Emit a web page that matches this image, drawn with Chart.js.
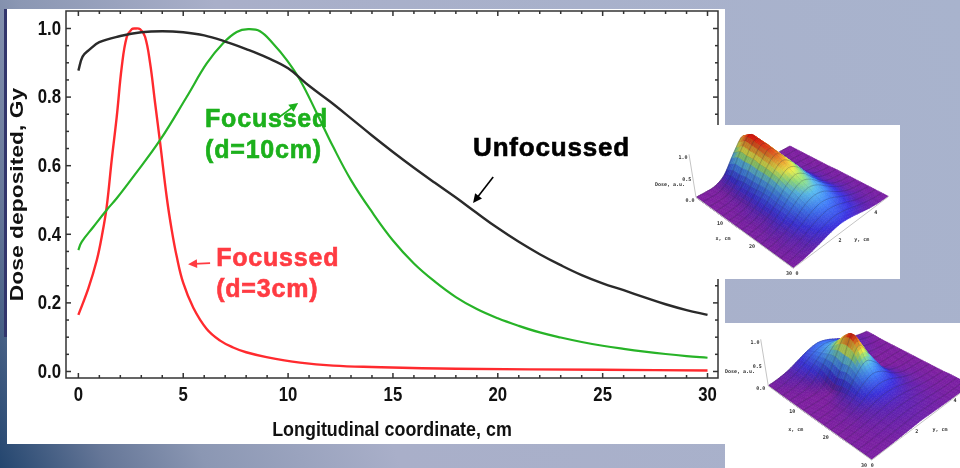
<!DOCTYPE html>
<html>
<head>
<meta charset="utf-8">
<script src="https://cdn.jsdelivr.net/npm/chart.js@4"></script>
<style>
  html, body { margin: 0; padding: 0; }
  body {
    position: relative; width: 960px; height: 468px; overflow: hidden;
    background: linear-gradient(68deg, #24466f 0%, #667798 9.4%, #8b97b3 18%, #a9afc9 35%, #a8b3cd 100%);
  }
  .panel { position: absolute; background: #fff; }
  .panel canvas { display: block; }
  #strip { position: absolute; left: 4px; top: 9px; width: 3px; height: 328px; background: #33366c; }
  #mainPanel { left: 7px; top: 9px; width: 718px; height: 435px; }
  #insetA { left: 640px; top: 125px; width: 260px; height: 154px; }
  #insetB { left: 725px; top: 323px; width: 235px; height: 145px; }
</style>
</head>
<body>
<div id="strip"></div>
<div class="panel" id="mainPanel"><canvas id="doseChart" width="718" height="435"></canvas></div>
<div class="panel" id="insetA"><canvas id="surfaceA" width="260" height="154"></canvas></div>
<div class="panel" id="insetB"><canvas id="surfaceB" width="235" height="145"></canvas></div>
<script>
// Longitudinal dose curves
const unfocussedX = [0, 0.2, 0.5, 1, 2, 3, 4, 5, 6, 7, 8, 9, 10, 11, 12, 13, 14, 15, 16, 17, 18, 19, 20, 21, 22, 23, 24, 25, 26, 27, 28, 29, 30];
const unfocussedDose = [0.877, 0.918, 0.937, 0.96, 0.978, 0.989, 0.992, 0.989, 0.98, 0.962, 0.94, 0.915, 0.884, 0.833, 0.787, 0.738, 0.688, 0.64, 0.594, 0.55, 0.507, 0.462, 0.418, 0.378, 0.342, 0.31, 0.281, 0.257, 0.237, 0.216, 0.196, 0.179, 0.165];

const focussed10X = [0, 0.16, 0.72, 1.35, 1.83, 2.62, 3.9, 5.17, 6.12, 6.9, 7.55, 8.1, 8.66, 9.3, 9.94, 10.57, 11.37, 12.15, 13, 14, 15, 16, 17, 18, 19, 20, 21, 22, 23, 24, 25, 26, 27, 28, 29, 30];
const focussed10Dose = [0.354, 0.378, 0.422, 0.471, 0.505, 0.568, 0.675, 0.801, 0.898, 0.957, 0.99, 0.998, 0.992, 0.955, 0.908, 0.85, 0.753, 0.655, 0.558, 0.465, 0.382, 0.315, 0.262, 0.217, 0.182, 0.155, 0.133, 0.114, 0.099, 0.086, 0.075, 0.066, 0.058, 0.051, 0.045, 0.04];

const focussed3X = [0, 0.48, 0.88, 1.12, 1.35, 1.59, 1.83, 2.07, 2.31, 2.55, 2.7, 2.94, 3.18, 3.42, 3.66, 3.9, 4.22, 4.45, 4.69, 5, 5.48, 6.12, 6.76, 7.38, 8, 8.97, 10.57, 12.15, 14, 18, 25, 30];
const focussed3Dose = [0.165, 0.243, 0.325, 0.395, 0.48, 0.617, 0.743, 0.889, 0.976, 0.998, 1, 0.998, 0.976, 0.899, 0.782, 0.666, 0.505, 0.413, 0.335, 0.258, 0.186, 0.124, 0.09, 0.07, 0.056, 0.042, 0.026, 0.017, 0.013, 0.008, 0.005, 0.003];

// Tick positions
const xTicksMinor = [1, 2, 3, 4, 6, 7, 8, 9, 11, 12, 13, 14, 16, 17, 18, 19, 21, 22, 23, 24, 26, 27, 28, 29];
const xTicksMajor = [0, 5, 10, 15, 20, 25, 30];
const yTicksMinor = [0.05, 0.1, 0.15, 0.25, 0.3, 0.35, 0.45, 0.5, 0.55, 0.65, 0.7, 0.75, 0.85, 0.9, 0.95];
const yTicksMajor = [0, 0.2, 0.4, 0.6, 0.8, 1];

// Surface heights of the two small 3D plots. Rows run from the beam axis outwards
// (0, 0.5, 1, 1.5, 2, 2.5 cm off axis), columns along x = 0, 2, ... 30 cm
const surfaceUnfocussed = [
  [0.88, 1.00, 1.00, 0.98, 0.96, 0.92, 0.86, 0.79, 0.72, 0.66, 0.60, 0.52, 0.44, 0.36, 0.30, 0.22],
  [0.58, 0.71, 0.71, 0.73, 0.71, 0.71, 0.69, 0.65, 0.59, 0.55, 0.51, 0.45, 0.38, 0.31, 0.26, 0.19],
  [0.17, 0.25, 0.25, 0.30, 0.30, 0.33, 0.35, 0.36, 0.33, 0.33, 0.32, 0.28, 0.25, 0.21, 0.18, 0.13],
  [0.02, 0.04, 0.04, 0.07, 0.07, 0.09, 0.12, 0.13, 0.12, 0.14, 0.15, 0.13, 0.13, 0.10, 0.10, 0.07],
  [0.00, 0.00, 0.00, 0.01, 0.01, 0.02, 0.03, 0.03, 0.03, 0.04, 0.05, 0.04, 0.05, 0.04, 0.04, 0.03],
  [0.00, 0.00, 0.00, 0.00, 0.00, 0.00, 0.00, 0.01, 0.01, 0.01, 0.01, 0.01, 0.01, 0.01, 0.01, 0.01]
];
const surfaceFocussed = [
  [0.35, 0.42, 0.52, 0.68, 0.88, 1.00, 0.85, 0.60, 0.42, 0.30, 0.20, 0.14, 0.10, 0.08, 0.06, 0.05],
  [0.30, 0.37, 0.43, 0.50, 0.54, 0.49, 0.52, 0.43, 0.33, 0.25, 0.17, 0.12, 0.09, 0.07, 0.05, 0.04],
  [0.20, 0.24, 0.24, 0.21, 0.12, 0.06, 0.11, 0.15, 0.15, 0.14, 0.10, 0.08, 0.06, 0.05, 0.04, 0.03],
  [0.10, 0.12, 0.09, 0.05, 0.01, 0.00, 0.01, 0.03, 0.04, 0.05, 0.04, 0.04, 0.03, 0.03, 0.02, 0.02],
  [0.04, 0.05, 0.02, 0.01, 0.00, 0.00, 0.00, 0.00, 0.01, 0.01, 0.01, 0.01, 0.01, 0.01, 0.01, 0.01],
  [0.01, 0.01, 0.00, 0.00, 0.00, 0.00, 0.00, 0.00, 0.00, 0.00, 0.00, 0.00, 0.01, 0.01, 0.01, 0.01]
];

const zip = (xs, ys) => xs.map((x, i) => ({ x, y: ys[i] }));
const sansBold = 'bold SIZEpx "Liberation Sans", Arial, sans-serif';

// Frame and inward ticks on all four sides
const frameTicks = {
  id: 'frameTicks',
  afterDatasetsDraw(chart) {
    const { ctx, chartArea: a, scales: { x, y } } = chart;
    ctx.save();
    ctx.strokeStyle = '#333';
    ctx.lineWidth = 1.5;
    ctx.strokeRect(a.left, a.top, a.right - a.left, a.bottom - a.top);
    const tick = (x0, y0, x1, y1) => {
      ctx.beginPath(); ctx.moveTo(x0, y0); ctx.lineTo(x1, y1); ctx.stroke();
    };
    xTicksMinor.concat(xTicksMajor).forEach(v => {
      const px = x.getPixelForValue(v);
      const len = xTicksMajor.includes(v) ? 5 : 3;
      tick(px, a.bottom, px, a.bottom - len);
      tick(px, a.top, px, a.top + len);
    });
    yTicksMinor.concat(yTicksMajor).forEach(v => {
      const py = y.getPixelForValue(v);
      const len = yTicksMajor.includes(v) ? 5 : 3;
      tick(a.left, py, a.left + len, py);
      tick(a.right, py, a.right - len, py);
    });
    ctx.restore();
  }
};

// The original axis text is a narrow bold face, none is installed, so the library's
// tick labels and titles are painted here with a horizontal squeeze
const narrowAxisText = {
  id: 'narrowAxisText',
  afterDraw(chart) {
    const { ctx, chartArea: a, scales: { x, y } } = chart;
    const squeezed = (text, px, py, size, sx, align, rot) => {
      ctx.save();
      ctx.translate(px, py);
      if (rot) ctx.rotate(rot);
      ctx.scale(sx, 1);
      ctx.font = sansBold.replace('SIZE', size);
      ctx.textAlign = align;
      ctx.textBaseline = 'middle';
      ctx.fillStyle = '#111';
      ctx.fillText(text, 0, 0);
      ctx.restore();
    };
    x.ticks.forEach(t => squeezed(t.label, x.getPixelForValue(t.value), a.bottom + 18, 19.5, 0.86, 'center'));
    y.ticks.forEach(t => squeezed(t.label, a.left - 5, y.getPixelForValue(t.value) + 1, 19.5, 0.86, 'right'));
    squeezed(x.options.title.text, (a.left + a.right) / 2, a.bottom + 52, 20, 0.895, 'center');
    squeezed(y.options.title.text, 11, (a.top + a.bottom) / 2, 18, 1.27, 'center', -Math.PI / 2);
  }
};

// Curve names and little arrows, placed in data coordinates
const curveNotes = [
  { lines: ['Focussed', '(d=10cm)'], x: 6.04, y: 0.713, gap: 0.091, color: '#1cb01c', size: 25, spacing: '0.8px' },
  { lines: ['Focussed', '(d=3cm)'], x: 6.57, y: 0.308, gap: 0.091, color: '#ff3b42', size: 25, spacing: '0.8px' },
  { lines: ['Unfocussed'], x: 18.82, y: 0.628, gap: 0, color: '#000', size: 26, spacing: '0.8px' }
];
const curveArrows = [
  { from: [9.52, 0.739], to: [10.48, 0.783], color: '#1cb01c' },
  { from: [6.28, 0.316], to: [5.23, 0.313], color: '#ff3b42' },
  { from: [19.78, 0.567], to: [18.82, 0.491], color: '#000' }
];

const curveLabels = {
  id: 'curveLabels',
  afterDraw(chart) {
    const { ctx, scales: { x, y } } = chart;
    ctx.save();
    ctx.textBaseline = 'alphabetic';
    curveNotes.forEach(n => {
      ctx.font = sansBold.replace('SIZE', n.size);
      ctx.fillStyle = ctx.strokeStyle = n.color;
      ctx.lineWidth = 0.6;
      ctx.letterSpacing = n.spacing;
      n.lines.forEach((t, i) => {
        const px = x.getPixelForValue(n.x), py = y.getPixelForValue(n.y - i * n.gap);
        ctx.fillText(t, px, py);
        ctx.strokeText(t, px, py);
      });
    });
    curveArrows.forEach(a => {
      const x0 = x.getPixelForValue(a.from[0]), y0 = y.getPixelForValue(a.from[1]);
      const x1 = x.getPixelForValue(a.to[0]), y1 = y.getPixelForValue(a.to[1]);
      const ang = Math.atan2(y1 - y0, x1 - x0);
      ctx.strokeStyle = ctx.fillStyle = a.color;
      ctx.lineWidth = 1.6;
      ctx.beginPath();
      ctx.moveTo(x0, y0);
      ctx.lineTo(x1 - 6 * Math.cos(ang), y1 - 6 * Math.sin(ang));
      ctx.stroke();
      ctx.beginPath();
      ctx.moveTo(x1, y1);
      ctx.lineTo(x1 - 10 * Math.cos(ang - 0.45), y1 - 10 * Math.sin(ang - 0.45));
      ctx.lineTo(x1 - 10 * Math.cos(ang + 0.45), y1 - 10 * Math.sin(ang + 0.45));
      ctx.closePath();
      ctx.fill();
    });
    ctx.restore();
  }
};

new Chart(document.getElementById('doseChart'), {
  type: 'scatter',
  data: {
    datasets: [
      { label: 'Unfocussed', data: zip(unfocussedX, unfocussedDose), borderColor: '#2a2a2a', borderWidth: 2.4 },
      { label: 'Focussed (d=10cm)', data: zip(focussed10X, focussed10Dose), borderColor: '#27b327', borderWidth: 2.2 },
      { label: 'Focussed (d=3cm)', data: zip(focussed3X, focussed3Dose), borderColor: '#ff2a2e', borderWidth: 2.4 }
    ].map(d => Object.assign(d, { showLine: true, pointRadius: 0, tension: 0.4 }))
  },
  options: {
    responsive: false,
    animation: false,
    layout: { padding: { left: 59, top: 2, right: 7, bottom: 66 } },
    plugins: { legend: { display: false }, tooltip: { enabled: false } },
    scales: {
      x: {
        type: 'linear', min: -0.59, max: 30.5,
        grid: { display: false, drawTicks: false },
        border: { display: false },
        ticks: { display: false, stepSize: 5, includeBounds: false },
        title: { display: false, text: 'Longitudinal coordinate, cm' }
      },
      y: {
        min: -0.019, max: 1.051,
        grid: { display: false, drawTicks: false },
        border: { display: false },
        ticks: { display: false, stepSize: 0.2, includeBounds: false, callback: v => v.toFixed(1) },
        title: { display: false, text: 'Dose deposited, Gy' }
      }
    }
  },
  plugins: [frameTicks, narrowAxisText, curveLabels]
});

// --- small 3D surface plots ---
const doseColors = [
  [0, 125, 30, 160], [0.1, 95, 35, 180], [0.22, 60, 50, 225], [0.4, 65, 125, 250],
  [0.55, 90, 190, 240], [0.66, 150, 230, 130], [0.76, 240, 240, 75], [0.87, 245, 155, 45], [1, 230, 25, 15]
];

function doseColor(h, shade) {
  let i = 0;
  while (i < doseColors.length - 2 && h > doseColors[i + 1][0]) i++;
  const a = doseColors[i], b = doseColors[i + 1];
  const t = Math.min(1, Math.max(0, (h - a[0]) / (b[0] - a[0])));
  const c = [1, 2, 3].map(k => Math.round((a[k] + (b[k] - a[k]) * t) * shade));
  return `rgb(${c[0]},${c[1]},${c[2]})`;
}

// Catmull-Rom, only to paint the surface between the table's grid lines
const spline = (p0, p1, p2, p3, t) =>
  0.5 * (2 * p1 + (p2 - p0) * t + (2 * p0 - 5 * p1 + 4 * p2 - p3) * t * t + (3 * p1 - p0 - 3 * p2 + p3) * t * t * t);

const surfacePlot = {
  id: 'surfacePlot',
  afterDraw(chart, args, opts) {
    const { ctx, scales: { x, y } } = chart;
    const rows = opts.rows, nx = rows[0].length - 1, ny = (rows.length - 1) * 2;
    const cell = (i, j) => {
      const ii = Math.min(nx, Math.max(0, i));
      const jj = Math.min(ny / 2, Math.abs(ny / 2 - j));
      return rows[jj][ii];
    };
    const height = (fi, fj) => {
      const i = Math.min(nx - 1, Math.floor(fi)), j = Math.min(ny - 1, Math.floor(fj));
      const s = fi - i, t = fj - j;
      const col = [-1, 0, 1, 2].map(d => spline(cell(i - 1, j + d), cell(i, j + d), cell(i + 1, j + d), cell(i + 2, j + d), s));
      return Math.max(0, spline(col[0], col[1], col[2], col[3], t));
    };
    const c = opts.corners;
    // screen position of a surface point, fi along x, fj across the beam
    const place = (fi, fj) => {
      const u = fi / nx, v = fj / ny, z = height(fi, fj);
      const bx = (1 - u) * (1 - v) * c[0][0] + u * (1 - v) * c[1][0] + (1 - u) * v * c[2][0] + u * v * c[3][0];
      const by = (1 - u) * (1 - v) * c[0][1] + u * (1 - v) * c[1][1] + (1 - u) * v * c[2][1] + u * v * c[3][1];
      return [x.getPixelForValue(bx), y.getPixelForValue(by - z * opts.zUnit)];
    };
    const path = (p) => {
      ctx.beginPath();
      ctx.moveTo(p[0][0], p[0][1]);
      for (let k = 1; k < p.length; k++) ctx.lineTo(p[k][0], p[k][1]);
    };
    const steps = 4;
    ctx.save();
    for (let i = 0; i < nx; i++) {
      for (let j = ny - 1; j >= 0; j--) {
        for (let a = 0; a < steps; a++) {
          for (let b = steps - 1; b >= 0; b--) {
            const fi0 = i + a / steps, fi1 = i + (a + 1) / steps, fj0 = j + b / steps, fj1 = j + (b + 1) / steps;
            const mid = height((fi0 + fi1) / 2, (fj0 + fj1) / 2);
            const slope = (height(fi0, fj1) - height(fi0, fj0)) * steps;
            // the side facing the viewer is in shadow, the far side catches light
            const shade = 1 - 0.22 * Math.min(1, Math.max(0, slope * 3));
            ctx.fillStyle = ctx.strokeStyle = doseColor(mid, shade);
            ctx.lineWidth = 0.6;
            path([place(fi0, fj0), place(fi1, fj0), place(fi1, fj1), place(fi0, fj1)]);
            ctx.closePath();
            ctx.fill();
            ctx.stroke();
          }
        }
        // grid lines of this cell
        ctx.strokeStyle = 'rgba(30,30,50,0.5)';
        ctx.lineWidth = 0.5;
        const near = [], left = [];
        for (let k = 0; k <= steps; k++) {
          near.push(place(i + k / steps, j));
          left.push(place(i, j + k / steps));
        }
        path(near); ctx.stroke();
        path(left); ctx.stroke();
      }
    }
    // box edges and labels
    ctx.strokeStyle = '#c4c4c4';
    ctx.lineWidth = 1;
    path([[x.getPixelForValue(opts.zAxis[0][0]), y.getPixelForValue(opts.zAxis[0][1])],
          [x.getPixelForValue(opts.zAxis[1][0]), y.getPixelForValue(opts.zAxis[1][1])]]);
    ctx.stroke();
    path([[x.getPixelForValue(c[0][0]), y.getPixelForValue(c[0][1])],
          [x.getPixelForValue(c[1][0]), y.getPixelForValue(c[1][1])],
          [x.getPixelForValue(c[3][0]), y.getPixelForValue(c[3][1])]]);
    ctx.stroke();
    ctx.fillStyle = '#333';
    ctx.font = 'bold 5px "DejaVu Sans Mono", monospace';
    ctx.textAlign = 'center';
    ctx.textBaseline = 'middle';
    opts.labels.forEach(l => ctx.fillText(l[0], x.getPixelForValue(l[1]), y.getPixelForValue(l[2])));
    ctx.restore();
  }
};

function surfaceChart(id, w, h, rows, corners, zUnit, zAxis, labels) {
  new Chart(document.getElementById(id), {
    type: 'scatter',
    data: { datasets: [] },
    options: {
      responsive: false,
      animation: false,
      plugins: {
        legend: { display: false }, tooltip: { enabled: false },
        surfacePlot: { rows, corners, zUnit, zAxis, labels }
      },
      scales: {
        x: { display: false, min: 0, max: w },
        y: { display: false, min: 0, max: h, reverse: true }
      }
    },
    plugins: [surfacePlot]
  });
}

surfaceChart('surfaceA', 260, 154, surfaceUnfocussed,
  [[56, 72.3], [153.3, 143.3], [150, 21], [248.3, 71.7]], 41, [[56, 72.3], [49, 29.3]],
  [['1.0', 43, 32.7], ['0.5', 46.7, 55], ['0.0', 50, 75.7], ['Dose, a.u.', 30, 60], ['10', 80, 98.3], ['x, cm', 83, 114],
   ['20', 112, 121.7], ['30', 149, 148.3], ['0', 157, 148.3], ['2', 200, 116], ['y, cm', 221.7, 115], ['4', 235.7, 87.7]]);

surfaceChart('surfaceB', 235, 145, surfaceFocussed,
  [[43.3, 63], [146.7, 137], [141.7, 8.7], [245.7, 62.3]], 46, [[43.3, 63], [35.7, 16.3]],
  [['1.0', 30, 19.7], ['0.5', 32.3, 43.7], ['0.0', 35.7, 65.7], ['Dose, a.u.', 15, 48.7], ['10', 67.3, 88.7], ['x, cm', 70.7, 106.3],
   ['20', 100.7, 114.7], ['30', 139, 142.7], ['0', 147.3, 142.7], ['2', 191.7, 108.7], ['y, cm', 215, 107], ['4', 230, 78]]);
</script>
</body>
</html>
